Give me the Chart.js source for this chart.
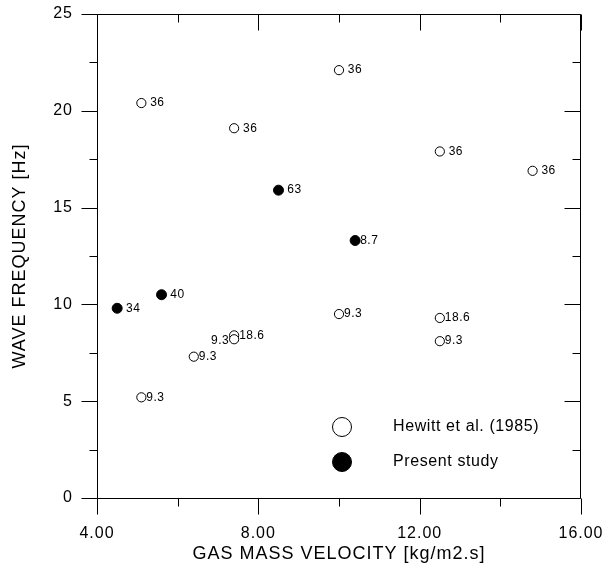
<!DOCTYPE html>
<html>
<head>
<meta charset="utf-8">
<script src="https://cdn.jsdelivr.net/npm/chart.js@4.4.1/dist/chart.umd.min.js"></script>
<style>
  html, body { margin: 0; padding: 0; background: #fff; }
  #chart { display: block; }
</style>
</head>
<body>
<canvas id="chart" width="604" height="570"></canvas>
<script>
// Hewitt et al. (1985) - open circles
const hewittX = [5.1, 7.4, 10.0, 12.5, 14.8, 10.0, 12.5, 12.5, 5.1, 6.4, 7.4, 7.4];
const hewittY = [20.4, 19.1, 22.1, 17.9, 16.9, 9.5, 9.3, 8.1, 5.2, 7.3, 8.4, 8.2];
const hewittLabels = [' 36', ' 36', ' 36', ' 36', ' 36', '9.3', '18.6', '9.3', '9.3', '9.3', '18.6', '9.3'];
const hewittLabelSide = ['r', 'r', 'r', 'r', 'r', 'r', 'r', 'r', 'r', 'r', 'r', 'l'];

// Present study - filled circles
const presentX = [4.5, 5.6, 8.5, 10.4];
const presentY = [9.8, 10.5, 15.9, 13.3];
const presentLabels = [' 34', ' 40', ' 63', '8.7'];
const presentLabelSide = ['r', 'r', 'r', 'r'];

// axis ticks
const xMajor = [4, 8, 12, 16];
const xMinor = [6, 10, 14];
const yMajor = [0, 5, 10, 15, 20, 25];
const yMinor = [2.5, 7.5, 12.5, 17.5, 22.5];

const FONT = "'Liberation Sans', Arial, Helvetica, sans-serif";

function toPoints(xs, ys) {
    return xs.map((x, i) => ({ x: x, y: ys[i] }));
}

// wide-ish lettering like the original plot
const spacing = {
    id: 'spacing',
    beforeLayout(chart) { chart.ctx.letterSpacing = '1px'; },
    beforeDraw(chart) { chart.ctx.letterSpacing = '1px'; }
};

// box around the plot, ticks out on left/bottom, in on top/right
const frameTicks = {
    id: 'frameTicks',
    afterDraw(chart) {
        const { ctx, chartArea: a, scales: { x, y } } = chart;
        const L = Math.round(a.left) + 0.5, R = Math.round(a.right) - 0.5;
        const T = Math.round(a.top) + 0.5, B = Math.round(a.bottom) + 0.5;
        ctx.save();
        ctx.strokeStyle = '#000';
        ctx.lineWidth = 1;
        ctx.beginPath();
        ctx.rect(L, T, R - L, B - T);
        const xt = (vals, len) => vals.forEach(v => {
            const px = Math.round(x.getPixelForValue(v)) + 0.5;
            ctx.moveTo(px, B); ctx.lineTo(px, B + len);
            ctx.moveTo(px, T); ctx.lineTo(px, T + len);
        });
        const yt = (vals, len) => vals.forEach(v => {
            const py = Math.round(y.getPixelForValue(v)) + 0.5;
            ctx.moveTo(L, py); ctx.lineTo(L - len, py);
            ctx.moveTo(R, py); ctx.lineTo(R - len, py);
        });
        xt(xMajor, 16); xt(xMinor, 8);
        yt(yMajor, 16); yt(yMinor, 8);
        ctx.stroke();
        ctx.restore();
    }
};

// little number next to every point
const pointLabels = {
    id: 'pointLabels',
    afterDatasetsDraw(chart) {
        const { ctx } = chart;
        const sets = [[hewittLabels, hewittLabelSide], [presentLabels, presentLabelSide]];
        ctx.save();
        ctx.font = '12px ' + FONT;
        ctx.letterSpacing = '0.5px';
        ctx.fillStyle = '#000';
        ctx.textBaseline = 'middle';
        sets.forEach(([labels, sides], di) => {
            chart.getDatasetMeta(di).data.forEach((pt, i) => {
                if (sides[i] === 'l') {
                    ctx.textAlign = 'right';
                    ctx.fillText(labels[i], pt.x - 5, pt.y + 1);
                } else {
                    ctx.textAlign = 'left';
                    ctx.fillText(labels[i], pt.x + 5, pt.y);
                }
            });
        });
        ctx.restore();
    }
};

// legend inside the plot, lower right
const insideLegend = {
    id: 'insideLegend',
    afterDraw(chart) {
        const { ctx, chartArea: a } = chart;
        const cx = a.right - 239;
        const rows = [
            { y: a.bottom - 71, fill: '#fff', text: 'Hewitt et al. (1985)' },
            { y: a.bottom - 36, fill: '#000', text: 'Present study' }
        ];
        ctx.save();
        ctx.font = '16px ' + FONT;
        ctx.letterSpacing = '0.6px';
        ctx.textAlign = 'left';
        ctx.textBaseline = 'middle';
        rows.forEach(r => {
            ctx.beginPath();
            ctx.arc(cx, r.y, 9.5, 0, Math.PI * 2);
            ctx.fillStyle = r.fill;
            ctx.fill();
            ctx.strokeStyle = '#000';
            ctx.lineWidth = 1;
            ctx.stroke();
            ctx.fillStyle = '#000';
            ctx.fillText(r.text, cx + 51, r.y);
        });
        ctx.restore();
    }
};

new Chart(document.getElementById('chart'), {
    type: 'scatter',
    data: {
        datasets: [
            {
                label: 'Hewitt et al. (1985)',
                data: toPoints(hewittX, hewittY),
                pointRadius: 4.6,
                pointBorderWidth: 1,
                borderColor: '#000',
                backgroundColor: '#fff'
            },
            {
                label: 'Present study',
                data: toPoints(presentX, presentY),
                pointRadius: 5,
                pointBorderWidth: 1,
                borderColor: '#000',
                backgroundColor: '#000'
            }
        ]
    },
    options: {
        responsive: false,
        devicePixelRatio: 1,
        animation: false,
        layout: { padding: { top: 14, right: 23, left: 0, bottom: 0 } },
        plugins: {
            legend: { display: false },
            tooltip: { enabled: false }
        },
        scales: {
            x: {
                type: 'linear',
                min: 4,
                max: 16,
                afterFit(scale) {
                    scale.height = 72;
                    scale.paddingLeft = 0;
                    scale.paddingRight = 0;
                },
                afterBuildTicks(scale) { scale.ticks = xMajor.map(v => ({ value: v })); },
                grid: { display: false, drawTicks: false },
                border: { display: false },
                ticks: {
                    padding: 26,
                    color: '#000',
                    font: { family: FONT, size: 16 },
                    maxRotation: 0,
                    callback: v => Number(v).toFixed(2)
                },
                title: {
                    display: true,
                    text: 'GAS MASS VELOCITY [kg/m2.s]',
                    color: '#000',
                    font: { family: FONT, size: 18 },
                    padding: { top: 0, bottom: 5 }
                }
            },
            y: {
                type: 'linear',
                min: 0,
                max: 25,
                afterFit(scale) {
                    scale.width = 97;
                    scale.paddingTop = 0;
                    scale.paddingBottom = 0;
                },
                afterBuildTicks(scale) { scale.ticks = yMajor.map(v => ({ value: v })); },
                grid: { display: false, drawTicks: false },
                border: { display: false },
                ticks: {
                    padding: 24,
                    color: '#000',
                    font: { family: FONT, size: 16 }
                },
                title: {
                    display: true,
                    text: 'WAVE FREQUENCY [Hz]',
                    color: '#000',
                    font: { family: FONT, size: 18 },
                    padding: { top: 9, bottom: 0 }
                }
            }
        }
    },
    plugins: [spacing, frameTicks, pointLabels, insideLegend]
});
</script>
</body>
</html>
